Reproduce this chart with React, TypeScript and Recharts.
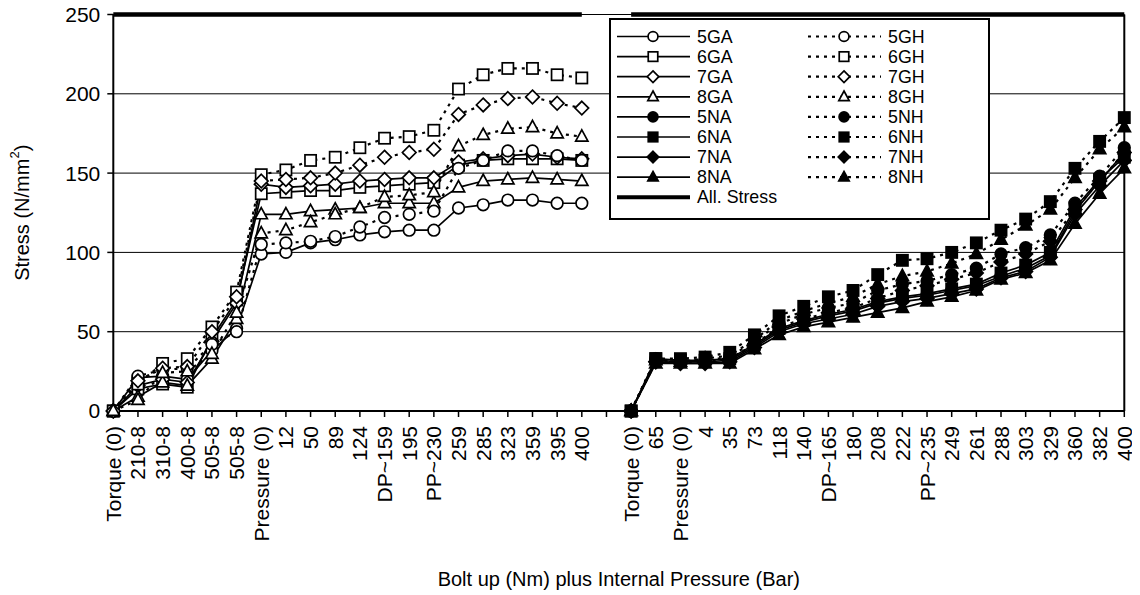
import React from 'react';
import { LineChart, Line, XAxis, YAxis, CartesianGrid, Legend, ReferenceLine, Label } from 'recharts';

const FONT = '"Liberation Sans", Arial, Helvetica, sans-serif';

// ---- categories ----
const leftLabels = ['Torque (0)', '210-8', '310-8', '400-8', '505-8', '505-8', 'Pressure (0)', '12', '50', '89', '124', 'DP~159', '195', 'PP~230', '259', '285', '323', '359', '395', '400'];
const rightLabels = ['Torque (0)', '65', 'Pressure (0)', '4', '35', '73', '118', '140', 'DP~165', '180', '208', '222', 'PP~235', '249', '261', '288', '303', '329', '360', '382', '400'];
const yTicks = [0, 50, 100, 150, 200, 250];
const allowableStress = 250;

// ---- G series (left group) ----
const v5GA = [0, 21, 22, 20, 38, 52, 99, 100, 106, 108, 111, 113, 114, 114, 128, 130, 133, 133, 131, 131];
const v6GA = [0, 14, 17, 15, 46, 70, 137, 138, 139, 139, 141, 142, 143, 144, 155, 158, 159, 159, 159, 158];
const v7GA = [0, 16, 20, 18, 44, 68, 143, 141, 142, 143, 145, 146, 147, 147, 157, 159, 161, 162, 160, 159];
const v8GA = [0, 9, 18, 16, 33, 58, 124, 124, 126, 127, 128, 131, 131, 131, 141, 145, 146, 147, 146, 145];
const v5GH = [0, 22, 26, 27, 42, 50, 105, 106, 107, 110, 116, 122, 124, 126, 153, 158, 164, 164, 161, 158];
const v6GH = [0, 17, 30, 33, 53, 75, 149, 152, 158, 160, 166, 172, 173, 177, 203, 212, 216, 216, 212, 210];
const v7GH = [0, 19, 27, 28, 50, 72, 145, 146, 147, 150, 155, 160, 163, 165, 187, 193, 197, 198, 194, 191];
const v8GH = [0, 7, 24, 25, 36, 62, 112, 114, 119, 124, 128, 135, 136, 138, 167, 174, 178, 179, 175, 173];

// ---- N series (right group) ----
const v5NA = [0, 32, 31, 31, 32, 41, 51, 56, 60, 63, 68, 71, 73, 76, 79, 85, 90, 98, 126, 145, 163];
const v6NA = [0, 33, 32, 32, 33, 42, 52, 57, 61, 64, 69, 72, 74, 77, 80, 87, 92, 100, 128, 146, 160];
const v7NA = [0, 31, 30, 30, 31, 40, 50, 55, 58, 61, 66, 69, 71, 74, 77, 84, 88, 97, 124, 142, 158];
const v8NA = [0, 30, 30, 30, 30, 39, 48, 53, 56, 59, 62, 65, 69, 72, 76, 83, 87, 95, 118, 137, 153];
const v5NH = [0, 33, 32, 32, 34, 44, 55, 61, 65, 68, 76, 80, 82, 86, 90, 99, 103, 111, 131, 148, 166];
const v6NH = [0, 33, 33, 34, 37, 48, 60, 66, 72, 76, 86, 95, 96, 100, 106, 114, 121, 132, 153, 170, 185];
const v7NH = [0, 31, 31, 31, 33, 42, 53, 58, 62, 65, 71, 76, 79, 83, 87, 94, 99, 107, 127, 145, 163];
const v8NH = [0, 32, 31, 33, 35, 45, 57, 63, 68, 72, 80, 85, 88, 93, 99, 108, 117, 127, 147, 165, 179];

type Shape = 'circle' | 'square' | 'diamond' | 'triangle';
interface SeriesDef {
  key: string;
  name: string;
  values: number[];
  group: 'L' | 'R';
  shape: Shape;
  filled: boolean;
  dashed: boolean;
}

const series: SeriesDef[] = [
  { key: 'g5a', name: '5GA', values: v5GA, group: 'L', shape: 'circle', filled: false, dashed: false },
  { key: 'g6a', name: '6GA', values: v6GA, group: 'L', shape: 'square', filled: false, dashed: false },
  { key: 'g7a', name: '7GA', values: v7GA, group: 'L', shape: 'diamond', filled: false, dashed: false },
  { key: 'g8a', name: '8GA', values: v8GA, group: 'L', shape: 'triangle', filled: false, dashed: false },
  { key: 'n5a', name: '5NA', values: v5NA, group: 'R', shape: 'circle', filled: true, dashed: false },
  { key: 'n6a', name: '6NA', values: v6NA, group: 'R', shape: 'square', filled: true, dashed: false },
  { key: 'n7a', name: '7NA', values: v7NA, group: 'R', shape: 'diamond', filled: true, dashed: false },
  { key: 'n8a', name: '8NA', values: v8NA, group: 'R', shape: 'triangle', filled: true, dashed: false },
  { key: 'g5h', name: '5GH', values: v5GH, group: 'L', shape: 'circle', filled: false, dashed: true },
  { key: 'g6h', name: '6GH', values: v6GH, group: 'L', shape: 'square', filled: false, dashed: true },
  { key: 'g7h', name: '7GH', values: v7GH, group: 'L', shape: 'diamond', filled: false, dashed: true },
  { key: 'g8h', name: '8GH', values: v8GH, group: 'L', shape: 'triangle', filled: false, dashed: true },
  { key: 'n5h', name: '5NH', values: v5NH, group: 'R', shape: 'circle', filled: true, dashed: true },
  { key: 'n6h', name: '6NH', values: v6NH, group: 'R', shape: 'square', filled: true, dashed: true },
  { key: 'n7h', name: '7NH', values: v7NH, group: 'R', shape: 'diamond', filled: true, dashed: true },
  { key: 'n8h', name: '8NH', values: v8NH, group: 'R', shape: 'triangle', filled: true, dashed: true },
];

const gapCount = 1;
const categoryLabels = [...leftLabels, '', ...rightLabels];

const data = categoryLabels.map((label, i) => {
  const row: Record<string, any> = { i, label };
  const ri = i - leftLabels.length - gapCount;
  for (const s of series) {
    if (s.group === 'L') row[s.key] = i < leftLabels.length ? s.values[i] : null;
    else row[s.key] = ri >= 0 ? s.values[ri] : null;
  }
  row.allow = i < leftLabels.length || ri >= 0 ? allowableStress : null;
  return row;
});

const DASH = '3 5';

function Marker(props: { cx: number; cy: number; shape: Shape; filled: boolean; scale?: number }) {
  const { cx, cy, shape, filled } = props;
  const k = props.scale ?? 1;
  const fill = filled ? '#000' : '#fff';
  const sw = 1.7;
  if (shape === 'circle') return <circle cx={cx} cy={cy} r={5.8 * k} fill={fill} stroke="#000" strokeWidth={sw} />;
  if (shape === 'square') {
    const h = 5.6 * k;
    return <rect x={cx - h} y={cy - h} width={2 * h} height={2 * h} fill={fill} stroke="#000" strokeWidth={sw} />;
  }
  if (shape === 'diamond') {
    const d = 6.8 * k;
    return <polygon points={`${cx},${cy - d} ${cx + d},${cy} ${cx},${cy + d} ${cx - d},${cy}`} fill={fill} stroke="#000" strokeWidth={sw} />;
  }
  const t = 6.8 * k;
  return (
    <polygon
      points={`${cx},${cy - t} ${cx + t * 0.9},${cy + t * 0.65} ${cx - t * 0.9},${cy + t * 0.65}`}
      fill={fill}
      stroke="#000"
      strokeWidth={sw}
    />
  );
}

const makeDot = (s: SeriesDef) => (p: any) => {
  const k = `${s.key}-${p.index}`;
  if (p.value == null || p.cx == null || p.cy == null || Number.isNaN(p.cy)) return <g key={k} />;
  return (
    <g key={k}>
      <Marker cx={p.cx} cy={p.cy} shape={s.shape} filled={s.filled} />
    </g>
  );
};

const XTick = (props: any) => {
  const { x, y, payload } = props;
  const text = categoryLabels[payload.value] ?? '';
  return (
    <text
      transform={`translate(${x},${y + 7}) rotate(-90)`}
      textAnchor="end"
      dominantBaseline="central"
      fontSize={21}
      fontFamily={FONT}
      fill="#000"
    >
      {text}
    </text>
  );
};

const leftLegend = ['g5a', 'g6a', 'g7a', 'g8a', 'n5a', 'n6a', 'n7a', 'n8a'];
const rightLegend = ['g5h', 'g6h', 'g7h', 'g8h', 'n5h', 'n6h', 'n7h', 'n8h'];

const LEG_W = 381;
const LEG_H = 202;
const LEG_FONT = 17.8;

const LegendBox = () => {
  const rowY = (r: number) => 18.5 + r * 20.1;
  const item = (key: string, r: number, x0: number) => {
    const s = series.find((q) => q.key === key)!;
    const y = rowY(r);
    return (
      <g key={key}>
        <line x1={x0} x2={x0 + 73} y1={y} y2={y} stroke="#000" strokeWidth={s.dashed ? 2.2 : 1.7} strokeDasharray={s.dashed ? DASH : undefined} />
        <Marker cx={x0 + 36} cy={y} shape={s.shape} filled={s.filled} scale={0.85} />
        <text x={x0 + 80} y={y} dominantBaseline="central" fontSize={LEG_FONT} fontFamily={FONT} fill="#000">
          {s.name}
        </text>
      </g>
    );
  };
  return (
    <svg width={LEG_W} height={LEG_H} style={{ display: 'block' }}>
      <rect x={1} y={1} width={LEG_W - 2} height={LEG_H - 2} fill="#fff" stroke="#000" strokeWidth={2} />
      {leftLegend.map((k, r) => item(k, r, 8))}
      {rightLegend.map((k, r) => item(k, r, 199))}
      <line x1={8} x2={81} y1={rowY(8)} y2={rowY(8)} stroke="#000" strokeWidth={4} />
      <text x={88} y={rowY(8)} dominantBaseline="central" fontSize={LEG_FONT} fontFamily={FONT} fill="#000">
        All. Stress
      </text>
    </svg>
  );
};

const YLabel = (props: any) => {
  const vb = props.viewBox || { x: 0, y: 14.5, width: 113, height: 396.5 };
  const cy = vb.y + vb.height / 2;
  return (
    <text transform={`translate(22,${cy}) rotate(-90)`} textAnchor="middle" dominantBaseline="central" fontSize={20} fontFamily={FONT} fill="#000">
      Stress (N/mm
      <tspan dy={-8} fontSize={13}>2</tspan>
      <tspan dy={8}>)</tspan>
    </text>
  );
};

export default function App() {
  return (
    <div style={{ width: 1140, height: 595, margin: '-8px 0 0 -8px', position: 'relative', fontFamily: FONT }}>
      <LineChart width={1140} height={595} data={data} margin={{ top: 14.5, right: 15.7, bottom: 0, left: 0 }}>
        <CartesianGrid vertical={false} stroke="#000" strokeWidth={1} />
        <XAxis
          dataKey="i"
          type="category"
          interval={0}
          tick={<XTick />}
          tickSize={6}
          tickLine={{ stroke: '#000', strokeWidth: 1.5 }}
          axisLine={{ stroke: '#000', strokeWidth: 2 }}
          height={184}
        >
          <Label value="Bolt up (Nm) plus Internal Pressure (Bar)" position="insideBottom" offset={9} fontSize={20} fontFamily={FONT} fill="#000" />
        </XAxis>
        <YAxis
          domain={[0, 250]}
          ticks={yTicks}
          interval={0}
          width={113.3}
          tickSize={6}
          tickMargin={7}
          tick={{ fontSize: 21, fontFamily: FONT, fill: '#000' }}
          tickLine={{ stroke: '#000', strokeWidth: 1.5 }}
          axisLine={{ stroke: '#000', strokeWidth: 2 }}
        >
          <Label content={<YLabel />} />
        </YAxis>
        <ReferenceLine y={250} stroke="#000" strokeWidth={1} />
        <ReferenceLine x={categoryLabels.length - 1} stroke="#000" strokeWidth={2} />
        <Legend
          layout="horizontal"
          verticalAlign="middle"
          align="center"
          content={<LegendBox />}
          wrapperStyle={{ left: 609, top: 18, width: LEG_W, height: LEG_H }}
        />
        {series.map((s) => (
          <Line
            key={s.key}
            dataKey={s.key}
            name={s.name}
            type="linear"
            stroke="#000"
            strokeWidth={s.dashed ? 2.2 : 1.7}
            strokeDasharray={s.dashed ? DASH : undefined}
            dot={makeDot(s)}
            activeDot={false}
            connectNulls={false}
            isAnimationActive={false}
            legendType="none"
          />
        ))}
        <Line dataKey="allow" name="All. Stress" stroke="#000" strokeWidth={4.5} dot={false} activeDot={false} connectNulls={false} isAnimationActive={false} />
      </LineChart>
    </div>
  );
}
